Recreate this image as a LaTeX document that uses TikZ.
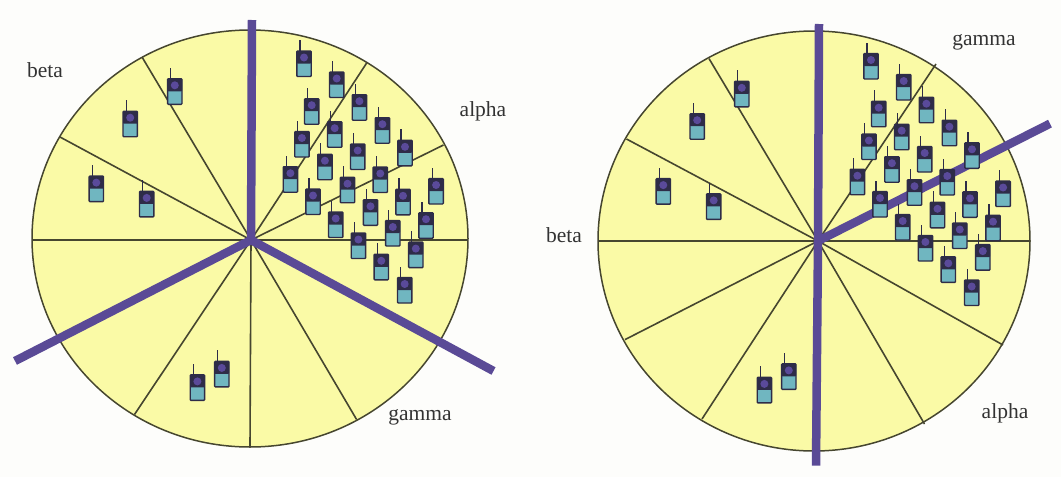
\documentclass[tikz,border=0pt]{standalone}
\usepackage{fontspec}
\setmainfont{Liberation Serif}
\definecolor{paper}{HTML}{FDFDFB}
\definecolor{cellfill}{HTML}{FAFAA6}
\definecolor{rim}{HTML}{46462F}
\definecolor{sector}{HTML}{5A4A96}
\definecolor{teal}{HTML}{70B6C0}
\definecolor{screen}{HTML}{2E2C48}
\definecolor{dot}{HTML}{5A4A9A}
\definecolor{labelgrey}{HTML}{333333}
\tikzset{
  x=1pt,y=-1pt,
  cell/.style={draw=rim,line width=1.5pt,fill=cellfill},
  spoke/.style={draw=rim,line width=1.6pt},
  sectorline/.style={draw=sector,line width=8.5pt},
  celllabel/.style={inner sep=0pt,text=labelgrey,font=\fontsize{21.5}{25}\selectfont},
  handset/.pic={
    \draw[screen,line width=1.1pt] (-4,-12.5) -- (-4,-23.5);
    \draw[screen,line width=1.4pt,fill=teal,rounded corners=0.8pt] (-7.2,-12.5) rectangle (7.2,13);
    \fill[screen,rounded corners=0.8pt] (-7.2,-12.5) rectangle (7.2,0);
    \fill[dot] (0,-6) circle[radius=4pt];
  }
}
\newcommand{\phonelist}{304/63.5,336.7/84.5,311.7/111.2,359.4/107.2,382.4/130.2,301.9/144,334.7/134.2,405/152.8,357.7/156.5,324.9/166.7,290.4/179.2,380.3/179.5,347.5/189.7,313/201.5,436.1/191,403/201.8,335.7/224.5,370.5/212.3,426/225.2,392.8/233,358.4/245.5,415.8/254.6,381.3/266.8,404.7/290,174.8/91.3,130.2/123.7,96.3/188.6,146.7/203.9,221.8/373.9,197.4/387.4}
\begin{document}
\begin{tikzpicture}
\fill[paper] (0,0) rectangle (1061,477);
\useasboundingbox (0,0) rectangle (1061,477);
% left cell
\coordinate (hubL) at (251,240);
\draw[cell] (250,238.5) ellipse [x radius=218pt,y radius=208.5pt];
\foreach \n/\x/\y in {a/367/62.5,b/443.5/145,c/468/240,d/32/240,e/60/137,f/142/57,g/134.5/414.5,h/356.6/419.5,i/250/447}{
  \coordinate (L\n) at (\x,\y);
  \draw[spoke] (hubL) -- (L\n);
}
\coordinate (LT) at (252,20);
\coordinate (LA) at (15,361);
\coordinate (LB) at (493.5,371);
\draw[sectorline] (hubL) -- (LT);
\draw[sectorline] (hubL) -- (LA);
\draw[sectorline] (hubL) -- (LB);
% right cell
\coordinate (hubR) at (818,241);
\draw[cell] (814,241) ellipse [x radius=216pt,y radius=210pt];
\fill[paper] (940,63) circle[radius=3pt];
\foreach \n/\x/\y in {a/936/64,c/1030/241,d/598/241,e/626.5/139,f/709/58.6,g/702/419,h/924.5/424,j/1003/345,k/625/339.6}{
  \coordinate (R\n) at (\x,\y);
  \draw[spoke] (hubR) -- (R\n);
}
\coordinate (RT) at (819,24);
\coordinate (RB) at (816,465.6);
\coordinate (RA) at (1050,123.6);
\draw[sectorline] (hubR) -- (RT);
\draw[sectorline] (hubR) -- (RB);
\draw[sectorline] (hubR) -- (RA);
% handsets
\foreach \px/\py in \phonelist {
  \pic at (\px,\py) {handset};
  \pic at (\px+567,\py+2.5) {handset};
}
% labels
\node[celllabel] (betaL) at (45,70) {beta};
\node[celllabel] (alphaL) at (483,111.5) {alpha};
\node[celllabel] (gammaL) at (420,417) {gamma};
\node[celllabel] (gammaR) at (984,42) {gamma};
\node[celllabel] (betaR) at (564,235) {beta};
\node[celllabel] (alphaR) at (1005,413) {alpha};
\end{tikzpicture}
\end{document}
